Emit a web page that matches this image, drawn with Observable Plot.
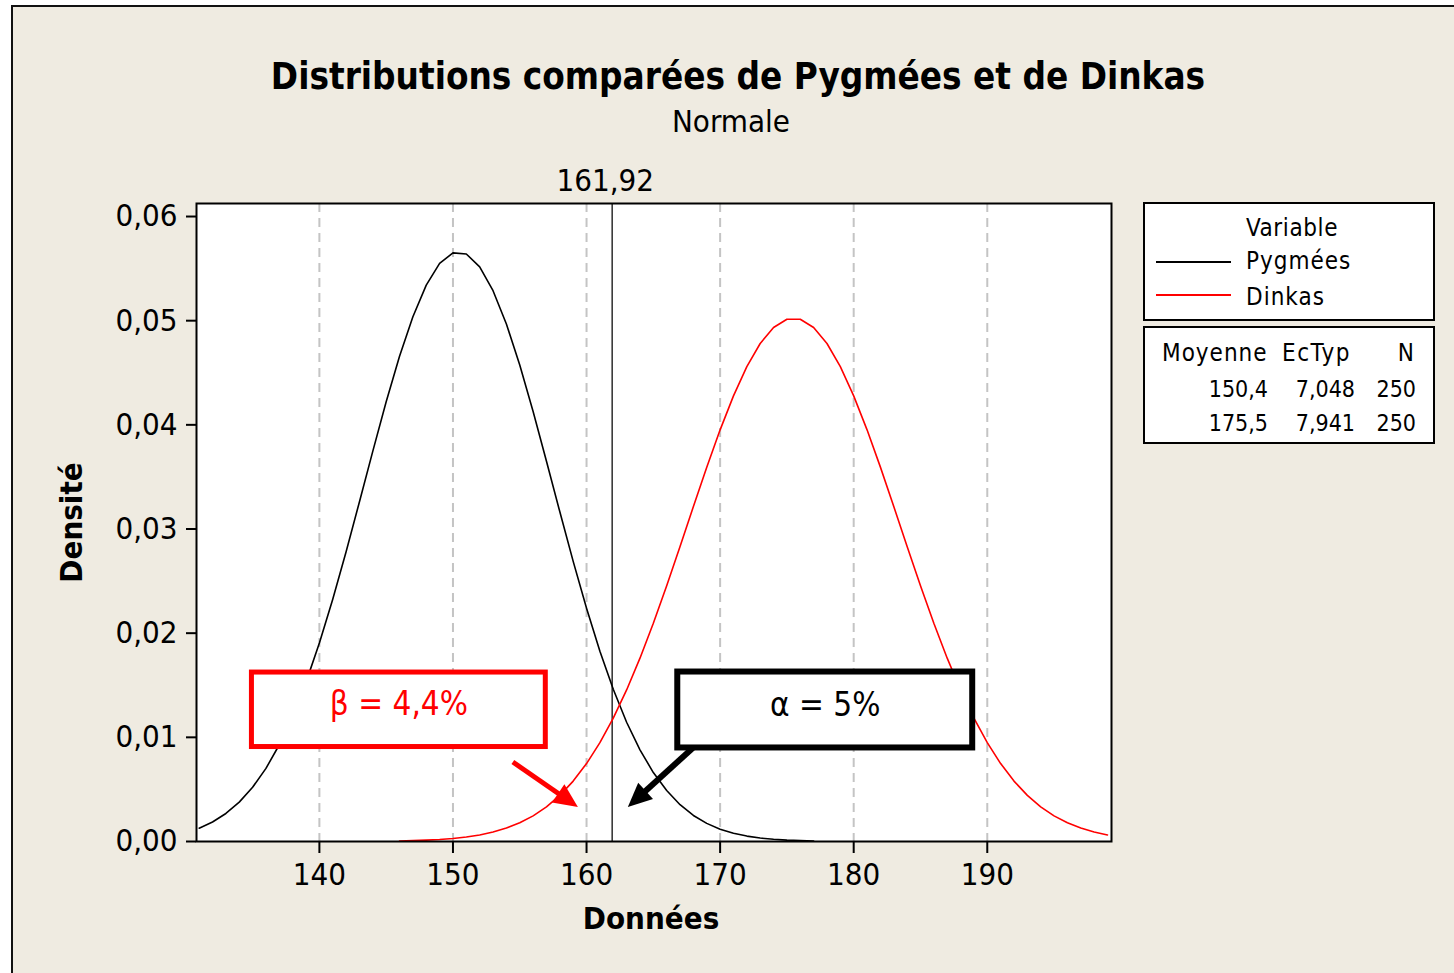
<!DOCTYPE html>
<html>
<head>
<meta charset="utf-8">
<script src="https://cdn.jsdelivr.net/npm/d3@7"></script>
<script src="https://cdn.jsdelivr.net/npm/@observablehq/plot@0.6"></script>
<style>
  body { margin: 0; background: #ffffff; overflow: hidden; }
  #wrap { position: relative; width: 1454px; height: 973px; overflow: hidden;
          font-family: "DejaVu Sans Condensed", "DejaVu Sans", sans-serif; }
  #bg { position: absolute; left: 11px; top: 5px; width: 1500px; height: 1000px;
        background: #EFEBE1; border-left: 2px solid #111; border-top: 2px solid #111; }
  #chart { position: absolute; left: 0; top: 0; }
  .t { position: absolute; white-space: nowrap; color: #000; line-height: 1; }
  .box { position: absolute; background: #fff; border: 2px solid #000; box-sizing: border-box; }
  .swatch { position: absolute; height: 2px; }
</style>
</head>
<body>
<div id="wrap"><div id="bg"></div></div>
<script>
// ---------------- Data ----------------
const titleText = "Distributions comparées de Pygmées et de Dinkas";
const subtitleText = "Normale";
const xLabel = "Données";
const yLabel = "Densité";

const seriesNames = ["Pygmées", "Dinkas"];
const seriesColors = ["#000000", "#ff0000"];

// Pygmées density curve
const pygX = [131,132,133,134,135,136,137,138,139,140,141,142,143,144,145,146,147,148,149,150,151,152,153,154,155,156,157,158,159,160,161,162,163,164,165,166,167,168,169,170,171,172,173,174,175,176,177];
const pygY = [0.00128,0.00187,0.00269,0.00378,0.00520,0.00702,0.00929,0.01205,0.01530,0.01905,0.02326,0.02782,0.03262,0.03748,0.04221,0.04658,0.05038,0.05341,0.05550,0.05651,0.05640,0.05516,0.05288,0.04968,0.04574,0.04128,0.03651,0.03165,0.02689,0.02239,0.01827,0.01461,0.01145,0.00880,0.00662,0.00489,0.00353,0.00250,0.00174,0.00118,0.00079,0.00052,0.00033,0.00021,0.00013,0.00008,0.00005];

// Dinkas density curve
const dinX = [146,147,148,149,150,151,152,153,154,155,156,157,158,159,160,161,162,163,164,165,166,167,168,169,170,171,172,173,174,175,176,177,178,179,180,181,182,183,184,185,186,187,188,189,190,191,192,193,194,195,196,197,198,199];
const dinY = [0.00005,0.00008,0.00013,0.00019,0.00029,0.00043,0.00063,0.00091,0.00129,0.00180,0.00246,0.00333,0.00443,0.00580,0.00748,0.00949,0.01184,0.01455,0.01760,0.02096,0.02456,0.02833,0.03216,0.03594,0.03952,0.04278,0.04559,0.04781,0.04935,0.05014,0.05014,0.04935,0.04781,0.04559,0.04278,0.03952,0.03594,0.03216,0.02833,0.02456,0.02096,0.01760,0.01455,0.01184,0.00949,0.00748,0.00580,0.00443,0.00333,0.00246,0.00180,0.00129,0.00091,0.00063];

// Statistics table
const statHeaders = ["Moyenne", "EcTyp", "N"];
const statMeans = [150.4, 175.5];
const statSds = [7.048, 7.941];
const statNs = [250, 250];

// Axes
const xTicks = [140, 150, 160, 170, 180, 190];
const yTicks = [0, 0.01, 0.02, 0.03, 0.04, 0.05, 0.06];
const xDomain = [130.8, 199.3];
const yDomain = [0, 0.06125];
const cutoff = [161.92];

// Annotations (data units)
const annotBoxes = [
  {label: "β = 4,4%", color: "#ff0000", x1: 134.95, x2: 156.95, y1: 0.00907, y2: 0.01622},
  {label: "α = 5%",   color: "#000000", x1: 166.83, x2: 188.91, y1: 0.00898, y2: 0.01627}
];
const annotArrows = [
  {color: "#ff0000", width: 5, x1: 154.52, y1: 0.00758, x2: 159.39, y2: 0.00326},
  {color: "#000000", width: 6, x1: 167.99, y1: 0.00893, x2: 163.13, y2: 0.00326}
];

// ---------------- Build ----------------
const fmtComma = (v, d) => v.toFixed(d).replace(".", ",");
const pyg = pygX.map((x, i) => ({x, y: pygY[i]}));
const din = dinX.map((x, i) => ({x, y: dinY[i]}));

function arrowMark(data) {
  return (index, scales) => {
    const g = d3.create("svg:g");
    for (const d of data) {
      const x1 = scales.x(d.x1), y1 = scales.y(d.y1);
      const x2 = scales.x(d.x2), y2 = scales.y(d.y2);
      const a = Math.atan2(y2 - y1, x2 - x1);
      const L = 24, W = 11;
      const bx = x2 - L * Math.cos(a), by = y2 - L * Math.sin(a);
      g.append("line")
        .attr("x1", x1).attr("y1", y1)
        .attr("x2", bx + 2 * Math.cos(a)).attr("y2", by + 2 * Math.sin(a))
        .attr("stroke", d.color).attr("stroke-width", d.width);
      g.append("path")
        .attr("d", `M${x2},${y2}L${bx + W * Math.sin(a)},${by - W * Math.cos(a)}L${bx - W * Math.sin(a)},${by + W * Math.cos(a)}Z`)
        .attr("fill", d.color);
    }
    return g.node();
  };
}

const chart = Plot.plot({
  width: 1454,
  height: 973,
  marginLeft: 196,
  marginRight: 343,
  marginTop: 203,
  marginBottom: 132,
  x: {domain: xDomain},
  y: {domain: yDomain},
  style: {background: "transparent", fontFamily: "'DejaVu Sans Condensed', 'DejaVu Sans', sans-serif", fontSize: "31px", color: "#000"},
  marks: [
    Plot.frame({fill: "white"}),
    Plot.ruleX(xTicks, {stroke: "#c4c4c4", strokeWidth: 2, strokeDasharray: "9,6"}),
    Plot.ruleX(cutoff, {stroke: "#3a3a3a", strokeWidth: 1.6}),
    Plot.line(pyg, {x: "x", y: "y", stroke: seriesColors[0], strokeWidth: 1.6}),
    Plot.line(din, {x: "x", y: "y", stroke: seriesColors[1], strokeWidth: 1.6}),
    Plot.rect([annotBoxes[0]], {x1: "x1", x2: "x2", y1: "y1", y2: "y2", fill: "white", stroke: annotBoxes[0].color, strokeWidth: 5}),
    Plot.rect([annotBoxes[1]], {x1: "x1", x2: "x2", y1: "y1", y2: "y2", fill: "white", stroke: annotBoxes[1].color, strokeWidth: 6}),
    Plot.text([annotBoxes[0]], {x: d => (d.x1 + d.x2) / 2, y: d => (d.y1 + d.y2) / 2, text: "label", fill: annotBoxes[0].color, fontSize: 33, dy: -5}),
    Plot.text([annotBoxes[1]], {x: d => (d.x1 + d.x2) / 2, y: d => (d.y1 + d.y2) / 2, text: "label", fill: annotBoxes[1].color, fontSize: 33, dy: -5}),
    arrowMark(annotArrows),
    Plot.text(cutoff, {x: d => d, frameAnchor: "top", lineAnchor: "middle", dy: -22, dx: -7, text: d => fmtComma(d, 2), fontSize: 31, fill: "#000"}),
    Plot.axisX({ticks: xTicks, tickSize: 12, tickPadding: 9, tickFormat: d => String(d), fontSize: 31, strokeWidth: 2, label: null, fill: "#000"}),
    Plot.axisY({ticks: yTicks, tickSize: 10, tickPadding: 9, tickFormat: d => fmtComma(d, 2), fontSize: 31, strokeWidth: 2, label: null, fill: "#000"}),
    Plot.text([yLabel], {frameAnchor: "left", textAnchor: "middle", lineAnchor: "middle", dx: -124, rotate: -90, fontWeight: "bold", fontSize: 31, fill: "#000"}),
    Plot.text([xLabel], {frameAnchor: "bottom", textAnchor: "middle", lineAnchor: "middle", dy: 78, dx: -3, fontWeight: "bold", fontSize: 31, fill: "#000"}),
    Plot.frame({stroke: "#000", strokeWidth: 2})
  ]
});
chart.id = "chart";
const wrap = document.getElementById("wrap");
wrap.appendChild(chart);

// ---------------- HTML text: title & legend ----------------
function addText(txt, opts) {
  const s = document.createElement("div");
  s.className = "t";
  s.textContent = txt;
  const fs = opts.fs;
  s.style.fontSize = fs + "px";
  if (opts.bold) s.style.fontWeight = "bold";
  if (opts.color) s.style.color = opts.color;
  if (opts.ls) s.style.letterSpacing = opts.ls + "px";
  s.style.top = (opts.baseline - 0.846 * fs) + "px";
  if (opts.align === "center") { s.style.left = opts.x + "px"; s.style.transform = "translateX(-50%)"; }
  else if (opts.align === "right") { s.style.right = (1454 - opts.x) + "px"; }
  else { s.style.left = opts.x + "px"; }
  wrap.appendChild(s);
  return s;
}
function addBox(l, t, r, b) {
  const d = document.createElement("div");
  d.className = "box";
  d.style.left = l + "px"; d.style.top = t + "px";
  d.style.width = (r - l) + "px"; d.style.height = (b - t) + "px";
  wrap.appendChild(d);
}

addText(titleText, {x: 738, baseline: 90, fs: 36.5, bold: true, align: "center"});
addText(subtitleText, {x: 731, baseline: 132, fs: 31, align: "center"});

addBox(1143, 202, 1435, 321);
addBox(1143, 326, 1435, 444);

addText("Variable", {x: 1246, baseline: 236, fs: 24, ls: 0.6});
seriesNames.forEach((name, i) => {
  const base = [269, 305][i];
  const ly = [261, 294][i];
  const sw = document.createElement("div");
  sw.className = "swatch";
  sw.style.left = "1156px"; sw.style.width = "75px";
  sw.style.top = ly + "px"; sw.style.background = seriesColors[i];
  wrap.appendChild(sw);
  addText(name, {x: 1246, baseline: base, fs: 24, ls: 1});
});

addText(statHeaders[0], {x: 1162, baseline: 361, fs: 24, ls: 1});
addText(statHeaders[1], {x: 1282, baseline: 361, fs: 24, ls: 1.5});
addText(statHeaders[2], {x: 1414, baseline: 361, fs: 24, align: "right"});
statMeans.forEach((m, i) => {
  const base = [397, 431][i];
  addText(fmtComma(m, 1), {x: 1268, baseline: base, fs: 23, align: "right"});
  addText(fmtComma(statSds[i], 3), {x: 1355, baseline: base, fs: 23, align: "right"});
  addText(String(statNs[i]), {x: 1416, baseline: base, fs: 23, align: "right"});
});
</script>
</body>
</html>
